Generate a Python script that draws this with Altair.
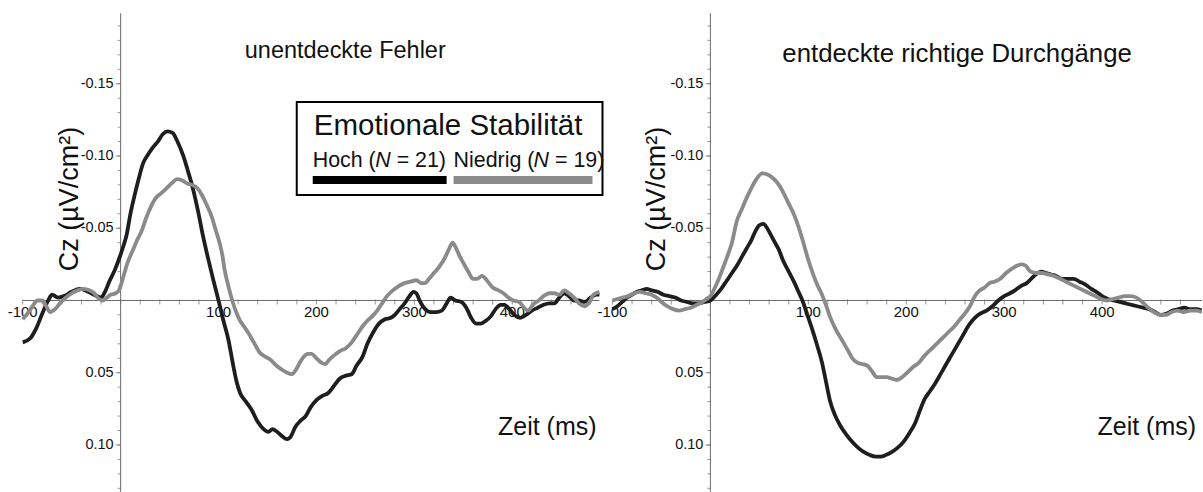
import altair as alt
import pandas as pd

# ---------------- data ----------------
# Panel 1: unentdeckte Fehler
l_hoch_t = [-100, -92, -86, -80, -74, -70, -64, -58, -50, -42, -36, -30, -24, -20, -16, -11, -6, -2, 2, 6, 10, 14, 18, 23, 28, 33, 38, 43, 48, 53, 58, 64, 69, 74, 79, 84, 89, 94, 100, 105, 110, 115, 118, 122, 128, 134, 140, 146, 151, 155, 160, 165, 170, 174, 178, 184, 189, 194, 200, 206, 212, 218, 224, 230, 236, 241, 247, 252, 258, 264, 270, 276, 280, 285, 290, 295, 299, 302, 306, 311, 316, 322, 328, 333, 337, 342, 348, 353, 358, 363, 368, 373, 378, 383, 388, 392, 397, 402, 408, 414, 420, 426, 432, 438, 443, 448, 453, 458, 463, 468, 474, 480, 486, 489]
l_hoch_v = [0.029, 0.026, 0.019, 0.009, 0.000, -0.004, -0.002, -0.003, -0.006, -0.008, -0.007, -0.005, -0.003, -0.002, -0.006, -0.014, -0.021, -0.028, -0.036, -0.045, -0.060, -0.072, -0.083, -0.095, -0.101, -0.106, -0.110, -0.115, -0.117, -0.116, -0.110, -0.100, -0.089, -0.077, -0.062, -0.045, -0.030, -0.016, 0.000, 0.014, 0.027, 0.045, 0.055, 0.064, 0.070, 0.076, 0.084, 0.089, 0.091, 0.089, 0.091, 0.094, 0.096, 0.094, 0.088, 0.083, 0.080, 0.074, 0.069, 0.066, 0.064, 0.059, 0.054, 0.052, 0.051, 0.045, 0.039, 0.030, 0.022, 0.016, 0.013, 0.012, 0.010, 0.006, 0.002, -0.003, -0.006, -0.005, 0.001, 0.006, 0.008, 0.008, 0.007, 0.002, -0.002, 0.000, 0.001, 0.005, 0.012, 0.016, 0.016, 0.014, 0.011, 0.006, 0.003, 0.003, 0.006, 0.010, 0.012, 0.010, 0.007, 0.005, 0.003, 0.002, 0.002, -0.002, -0.005, -0.003, 0.000, 0.000, 0.001, -0.002, -0.004, -0.004]

l_nied_t = [-100, -95, -90, -85, -80, -76, -72, -67, -62, -56, -50, -44, -38, -32, -27, -22, -18, -14, -10, -5, -1, 3, 7, 12, 17, 22, 26, 31, 36, 41, 46, 52, 58, 63, 68, 73, 78, 83, 88, 93, 97, 101, 104, 106, 110, 114, 118, 122, 126, 130, 136, 142, 148, 153, 159, 165, 170, 175, 179, 183, 187, 191, 195, 200, 205, 209, 213, 218, 224, 230, 236, 241, 247, 252, 257, 262, 267, 272, 278, 284, 290, 296, 302, 307, 311, 315, 320, 325, 330, 335, 339, 342, 346, 350, 355, 360, 364, 369, 374, 380, 386, 391, 396, 401, 407, 412, 416, 421, 427, 432, 438, 443, 448, 453, 458, 463, 468, 474, 479, 483, 489]
l_nied_v = [0.013, 0.009, 0.004, 0.000, 0.000, 0.004, 0.008, 0.006, 0.002, -0.002, -0.005, -0.007, -0.008, -0.007, -0.005, -0.001, 0.000, -0.002, -0.004, -0.005, -0.008, -0.017, -0.026, -0.034, -0.042, -0.049, -0.057, -0.065, -0.071, -0.074, -0.077, -0.081, -0.084, -0.083, -0.081, -0.080, -0.078, -0.073, -0.066, -0.058, -0.049, -0.040, -0.031, -0.022, -0.010, 0.000, 0.008, 0.014, 0.018, 0.022, 0.029, 0.036, 0.039, 0.041, 0.045, 0.048, 0.050, 0.051, 0.048, 0.043, 0.039, 0.037, 0.037, 0.040, 0.043, 0.044, 0.041, 0.038, 0.035, 0.033, 0.029, 0.024, 0.018, 0.014, 0.011, 0.007, 0.002, -0.003, -0.007, -0.010, -0.012, -0.013, -0.014, -0.012, -0.012, -0.015, -0.019, -0.023, -0.028, -0.035, -0.040, -0.037, -0.031, -0.026, -0.020, -0.015, -0.015, -0.017, -0.014, -0.009, -0.007, -0.005, -0.002, 0.000, 0.001, 0.005, 0.007, 0.003, 0.000, -0.003, -0.005, -0.005, -0.004, -0.007, -0.005, -0.002, 0.002, 0.004, 0.001, -0.004, -0.006]

# Panel 2: entdeckte richtige Durchgänge
r_hoch_t = [-100, -95, -90, -85, -80, -75, -70, -65, -60, -54, -48, -42, -36, -30, -24, -18, -12, -6, 0, 6, 11, 16, 21, 27, 32, 37, 42, 46, 50, 54, 58, 62, 66, 70, 74, 80, 86, 90, 94, 99, 104, 109, 114, 118, 122, 127, 133, 139, 145, 151, 157, 163, 169, 174, 179, 185, 191, 197, 203, 209, 214, 219, 224, 229, 235, 240, 246, 252, 258, 264, 270, 276, 282, 288, 294, 300, 306, 311, 317, 323, 329, 334, 338, 343, 348, 353, 359, 365, 371, 377, 383, 389, 394, 400, 406, 412, 418, 424, 430, 436, 442, 448, 454, 460, 466, 472, 478, 484, 490, 496, 502]
r_hoch_v = [0.006, 0.004, 0.001, -0.002, -0.004, -0.006, -0.007, -0.008, -0.007, -0.006, -0.004, -0.003, -0.002, 0.000, 0.001, 0.002, 0.002, 0.001, 0.000, -0.004, -0.008, -0.013, -0.018, -0.024, -0.030, -0.036, -0.042, -0.048, -0.052, -0.053, -0.050, -0.045, -0.040, -0.035, -0.028, -0.020, -0.012, -0.006, 0.000, 0.010, 0.020, 0.031, 0.043, 0.056, 0.069, 0.079, 0.087, 0.093, 0.098, 0.102, 0.105, 0.107, 0.108, 0.108, 0.107, 0.105, 0.102, 0.098, 0.092, 0.085, 0.076, 0.068, 0.063, 0.058, 0.051, 0.045, 0.038, 0.031, 0.024, 0.017, 0.012, 0.009, 0.007, 0.004, 0.000, -0.003, -0.005, -0.007, -0.010, -0.012, -0.016, -0.019, -0.020, -0.019, -0.018, -0.017, -0.015, -0.015, -0.015, -0.013, -0.011, -0.008, -0.006, -0.003, -0.001, 0.000, 0.001, 0.002, 0.003, 0.004, 0.005, 0.006, 0.008, 0.010, 0.009, 0.007, 0.006, 0.005, 0.006, 0.006, 0.007]

r_nied_t = [-100, -95, -90, -84, -78, -72, -66, -60, -55, -50, -44, -38, -32, -26, -20, -14, -8, -4, 0, 4, 8, 12, 17, 22, 27, 32, 37, 42, 47, 53, 59, 65, 70, 75, 80, 85, 90, 95, 100, 105, 109, 114, 118, 122, 128, 134, 140, 145, 150, 155, 160, 165, 170, 175, 180, 185, 190, 196, 201, 207, 213, 219, 225, 231, 237, 243, 249, 255, 260, 265, 270, 275, 280, 285, 290, 296, 302, 308, 313, 318, 322, 327, 333, 339, 345, 351, 357, 363, 369, 375, 381, 387, 393, 399, 405, 411, 417, 423, 429, 435, 441, 447, 453, 459, 465, 471, 477, 483, 490, 496, 502]
r_nied_v = [0.000, -0.001, -0.002, -0.003, -0.005, -0.006, -0.005, -0.004, -0.002, 0.001, 0.004, 0.006, 0.007, 0.006, 0.005, 0.003, 0.001, -0.001, -0.003, -0.008, -0.014, -0.021, -0.030, -0.040, -0.055, -0.063, -0.071, -0.078, -0.084, -0.088, -0.087, -0.084, -0.080, -0.074, -0.067, -0.060, -0.051, -0.040, -0.028, -0.018, -0.011, -0.004, 0.003, 0.011, 0.020, 0.027, 0.034, 0.040, 0.043, 0.044, 0.045, 0.049, 0.053, 0.053, 0.053, 0.054, 0.055, 0.053, 0.050, 0.046, 0.043, 0.038, 0.034, 0.030, 0.026, 0.022, 0.018, 0.013, 0.009, 0.004, -0.003, -0.007, -0.009, -0.012, -0.013, -0.015, -0.019, -0.022, -0.024, -0.025, -0.024, -0.020, -0.019, -0.019, -0.018, -0.017, -0.015, -0.013, -0.011, -0.009, -0.007, -0.005, -0.003, -0.001, 0.000, -0.001, -0.002, -0.003, -0.003, -0.002, 0.001, 0.005, 0.008, 0.010, 0.010, 0.008, 0.007, 0.008, 0.007, 0.007, 0.008]

panel_titles = ["unentdeckte Fehler", "entdeckte richtige Durchgänge"]
group_names = ["Hoch", "Niedrig"]
group_n = [21, 19]
legend_title = "Emotionale Stabilität"
x_title = "Zeit (ms)"
y_title = "Cz (µV/cm²)"

x_tick_values = [-100, 100, 200, 300, 400]
x_tick_labels = ["-100", "100", "200", "300", "400"]
y_tick_values = [-0.15, -0.10, -0.05, 0.05, 0.10]
y_tick_labels = ["-0.15", "-0.10", "-0.05", "0.05", "0.10"]
x_minor_values = list(range(-100, 500, 20))
y_minor_values = [round(-0.19 + 0.01 * i, 2) for i in range(33)]

# ---------------- styling ----------------
FONT = "Liberation Sans"
BLACK = "#1e1e1e"
GREY = "#8a8a8a"
AXIS = "#6a6a6a"
TXT = "#111111"
H = 492
Y_DOMAIN = [-0.2078, 0.1324]
Y_AXIS_TOP = -0.1988

one = pd.DataFrame({"a": [0]})


def txt(text, x, y, size, align="left", baseline="alphabetic", **kw):
    return alt.Chart(one).mark_text(text=text, font=FONT, fontSize=size, color=TXT,
                                    align=align, baseline=baseline, **kw).encode(
        x=alt.value(x), y=alt.value(y))


def panel(hoch_t, hoch_v, nied_t, nied_v, width, x_domain, x_end, title, title_x, title_y,
          title_size, zeit_x, cz_x, with_legend):
    xs = alt.Scale(domain=x_domain, nice=False, zero=False)
    ys = alt.Scale(domain=Y_DOMAIN, nice=False, zero=False, reverse=True)

    def X(f):
        return alt.X(f, type="quantitative", scale=xs, axis=None)

    def Y(f):
        return alt.Y(f, type="quantitative", scale=ys, axis=None)

    layers = []
    # axis lines
    xline = pd.DataFrame({"x1": [-100], "x2": [x_end], "y": [0]})
    layers.append(alt.Chart(xline).mark_rule(color=AXIS, strokeWidth=1).encode(
        x=X("x1"), x2="x2", y=Y("y")))
    yline = pd.DataFrame({"x": [0], "y1": [Y_AXIS_TOP], "y2": [Y_DOMAIN[1]]})
    layers.append(alt.Chart(yline).mark_rule(color=AXIS, strokeWidth=1).encode(
        x=X("x"), y=Y("y1"), y2="y2"))
    # x ticks
    xt = pd.DataFrame({"t": [v for v in x_minor_values if v <= x_end], "y": 0})
    layers.append(alt.Chart(xt).mark_tick(orient="vertical", size=5, thickness=1,
                                          yOffset=1.5, color=AXIS).encode(x=X("t"), y=Y("y")))
    # y ticks
    ymin = pd.DataFrame({"v": y_minor_values, "x": 0})
    layers.append(alt.Chart(ymin).mark_tick(orient="horizontal", size=3, thickness=1,
                                            xOffset=-1.5, color=AXIS).encode(x=X("x"), y=Y("v")))
    ymaj = pd.DataFrame({"v": y_tick_values, "x": 0})
    layers.append(alt.Chart(ymaj).mark_tick(orient="horizontal", size=5, thickness=1,
                                            xOffset=-2.5, color=AXIS).encode(x=X("x"), y=Y("v")))
    # tick labels
    xl = pd.DataFrame({"t": x_tick_values, "lab": x_tick_labels, "y": 0})
    layers.append(alt.Chart(xl).mark_text(font=FONT, fontSize=15, color=TXT, align="center",
                                          baseline="top", dy=5).encode(
        x=X("t"), y=Y("y"), text="lab:N"))
    yl = pd.DataFrame({"v": y_tick_values, "lab": y_tick_labels, "x": 0})
    layers.append(alt.Chart(yl).mark_text(font=FONT, fontSize=14.5, color=TXT, align="right",
                                          baseline="middle", dx=-7).encode(
        x=X("x"), y=Y("v"), text="lab:N"))

    # curves
    dh = pd.DataFrame({"t": hoch_t, "v": hoch_v})
    dn = pd.DataFrame({"t": nied_t, "v": nied_v})
    layers.append(alt.Chart(dh).mark_line(color=BLACK, strokeWidth=3.8, interpolate="monotone",
                                          clip=True).encode(x=X("t"), y=Y("v"), order="t:Q"))
    layers.append(alt.Chart(dn).mark_line(color=GREY, strokeWidth=3.8, interpolate="monotone",
                                          clip=True).encode(x=X("t"), y=Y("v"), order="t:Q"))

    # texts
    layers.append(txt(title, title_x, title_y, title_size))
    layers.append(txt(x_title, zeit_x, 435, 25, align="right"))
    layers.append(txt(y_title, cz_x, 199, 27, align="center", baseline="middle", angle=270))

    if with_legend:
        layers.append(alt.Chart(one).mark_rect(fill="white", stroke="#000000", strokeWidth=2).encode(
            x=alt.value(297), x2=alt.value(603), y=alt.value(102), y2=alt.value(195)))
        layers.append(txt(legend_title, 448.5, 135, 29.5, align="center"))
        # Hoch (N = 21)
        layers.append(txt(group_names[0] + " (", 313, 167, 21.4))
        layers.append(txt("N", 375.5, 167, 21.4, fontStyle="italic"))
        layers.append(txt("= " + str(group_n[0]) + ")", 397, 167, 21.4))
        # Niedrig (N = 19)
        layers.append(txt(group_names[1] + " (", 454, 167, 21.4))
        layers.append(txt("N", 534, 167, 21.4, fontStyle="italic"))
        layers.append(txt("= " + str(group_n[1]) + ")", 555.5, 167, 21.4))
        # swatches
        layers.append(alt.Chart(one).mark_rect(fill="#000000").encode(
            x=alt.value(313), x2=alt.value(447), y=alt.value(176), y2=alt.value(184)))
        layers.append(alt.Chart(one).mark_rect(fill=GREY).encode(
            x=alt.value(454), x2=alt.value(593), y=alt.value(176), y2=alt.value(184)))

    return alt.layer(*layers).properties(width=width, height=H)


left = panel(l_hoch_t, l_hoch_v, l_nied_t, l_nied_v, 606, [-123.2, 495.2], 489,
             panel_titles[0], 245, 58, 23.5, 597, 70, True)
right = panel(r_hoch_t, r_hoch_v, r_nied_t, r_nied_v, 597, [-107.1, 502.0], 502,
              panel_titles[1], 177, 62, 25.8, 591, 52, False)

chart = alt.hconcat(left, right, spacing=0, bounds="flush").properties(
    padding=0, background="white"
).configure_view(strokeWidth=0)

chart.save("out.html", embed_options={"renderer": "svg", "actions": False})
